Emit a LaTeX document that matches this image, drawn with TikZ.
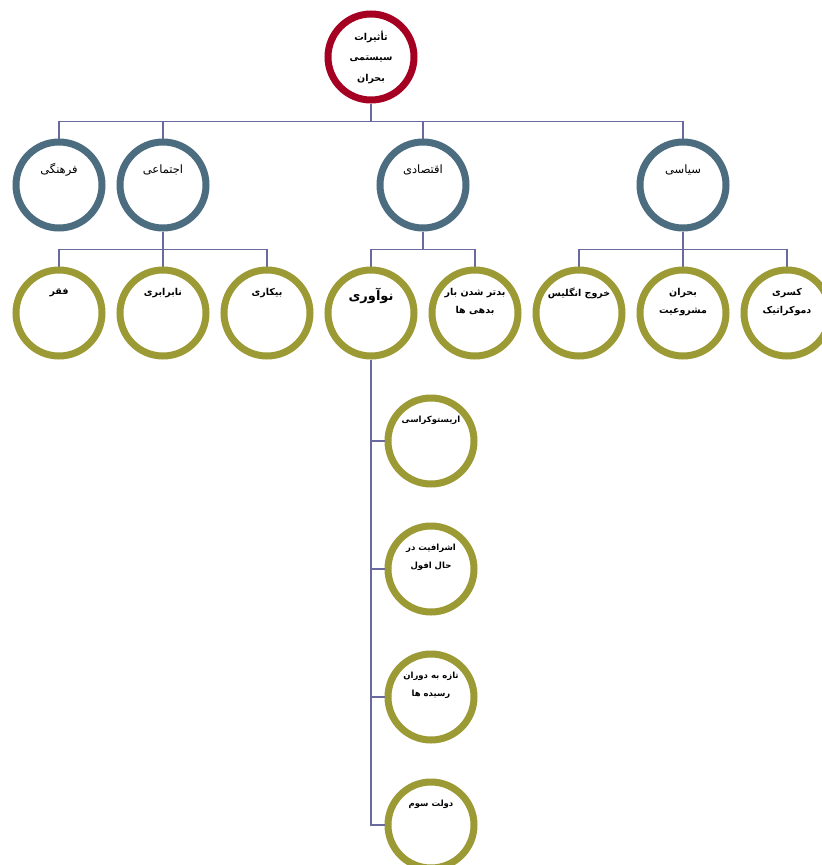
\documentclass[tikz,border=0pt]{standalone}
\usepackage{fontspec}
\usepackage{xcolor}
\usetikzlibrary{positioning}
\usetikzlibrary{calc}
\newfontfamily\arabicfont[Script=Arabic]{DejaVu Sans}
\TeXXeTstate=1
\newcommand{\fa}[1]{\beginR #1\endR}
\definecolor{crisisred}{RGB}{165,0,33}
\definecolor{slate}{RGB}{76,108,128}
\definecolor{olivec}{RGB}{155,154,52}
\definecolor{linkc}{RGB}{106,106,158}
\tikzset{
  ring/.style={circle, line width=7pt, minimum size=86pt, inner sep=0pt, fill=white},
  hub/.style={ring, draw=crisisred},
  area/.style={ring, draw=slate},
  leaf/.style={ring, draw=olivec},
  link/.style={draw=linkc, line width=1.9pt},
  hubtext/.style={font=\arabicfont\bfseries\fontsize{9.5}{20.5}\selectfont, align=center, inner sep=0pt},
  areatext/.style={font=\arabicfont\fontsize{11.5}{14}\selectfont, inner sep=0pt},
  leaftext/.style={font=\arabicfont\bfseries\fontsize{9.5}{18.5}\selectfont, align=center, inner sep=0pt, anchor=north},
  subtext/.style={font=\arabicfont\bfseries\fontsize{8.5}{18}\selectfont, align=center, inner sep=0pt, anchor=north},
}
\begin{document}
\begin{tikzpicture}[x=1pt,y=-1pt]
    \useasboundingbox (0,0) rectangle (822,865);
    \def\drop{18}

    \node[hub] (root) at (371,57) {};
    \node[hubtext] (root-t) at (root) {\fa{تأثیرات}\\\fa{سیستمی}\\\fa{بحران}};

    % first level
    \foreach \n/\x/\t in {cult/59/فرهنگی, soc/163/اجتماعی, econ/423/اقتصادی, pol/683/سیاسی} {
      \draw[link] (root.south) -- ++(0,\drop) -| (\x,140);
      \node[area] (\n) at (\x,185) {};
      \node[areatext] (\n-t) at (\x,170) {\fa{\t}};
    }

    % second level
    \foreach \p/\n/\x/\t in {soc/pov/59/{\fa{فقر}},
                             soc/ineq/163/{\fa{نابرابری}},
                             soc/unemp/267/{\fa{بیکاری}},
                             econ/innov/371/{},
                             econ/debt/475/{\fa{بدتر شدن بار}\\\fa{بدهی ها}},
                             pol/brit/579/{\fa{خروج انگلیس}},
                             pol/legit/683/{\fa{بحران}\\\fa{مشروعیت}},
                             pol/demo/787/{\fa{کسری}\\\fa{دموکراتیک}}} {
      \draw[link] (\p.south) -- ++(0,\drop) -| (\x,268);
      \node[leaf] (\n) at (\x,313) {};
      \node[leaftext] (\n-t) at (\x,288) {\t};
    }
    \node[leaftext, font=\arabicfont\bfseries\fontsize{13}{15}\selectfont] (innov-tt) at (371,288) {\fa{نوآوری}};

    % third level
    \foreach \n/\y/\t in {arist/441/{\fa{اریستوکراسی}},
                          nobl/569/{\fa{اشرافیت در}\\\fa{حال افول}},
                          rich/697/{\fa{تازه به دوران}\\\fa{رسیده ها}},
                          third/825/{\fa{دولت سوم}}} {
      \node[leaf] (\n) at (431,\y) {};
      \draw[link] (innov.south) |- (\n.west);
      \node[subtext] (\n-t) at (431,\y-25) {\t};
    }
\end{tikzpicture}
\end{document}
